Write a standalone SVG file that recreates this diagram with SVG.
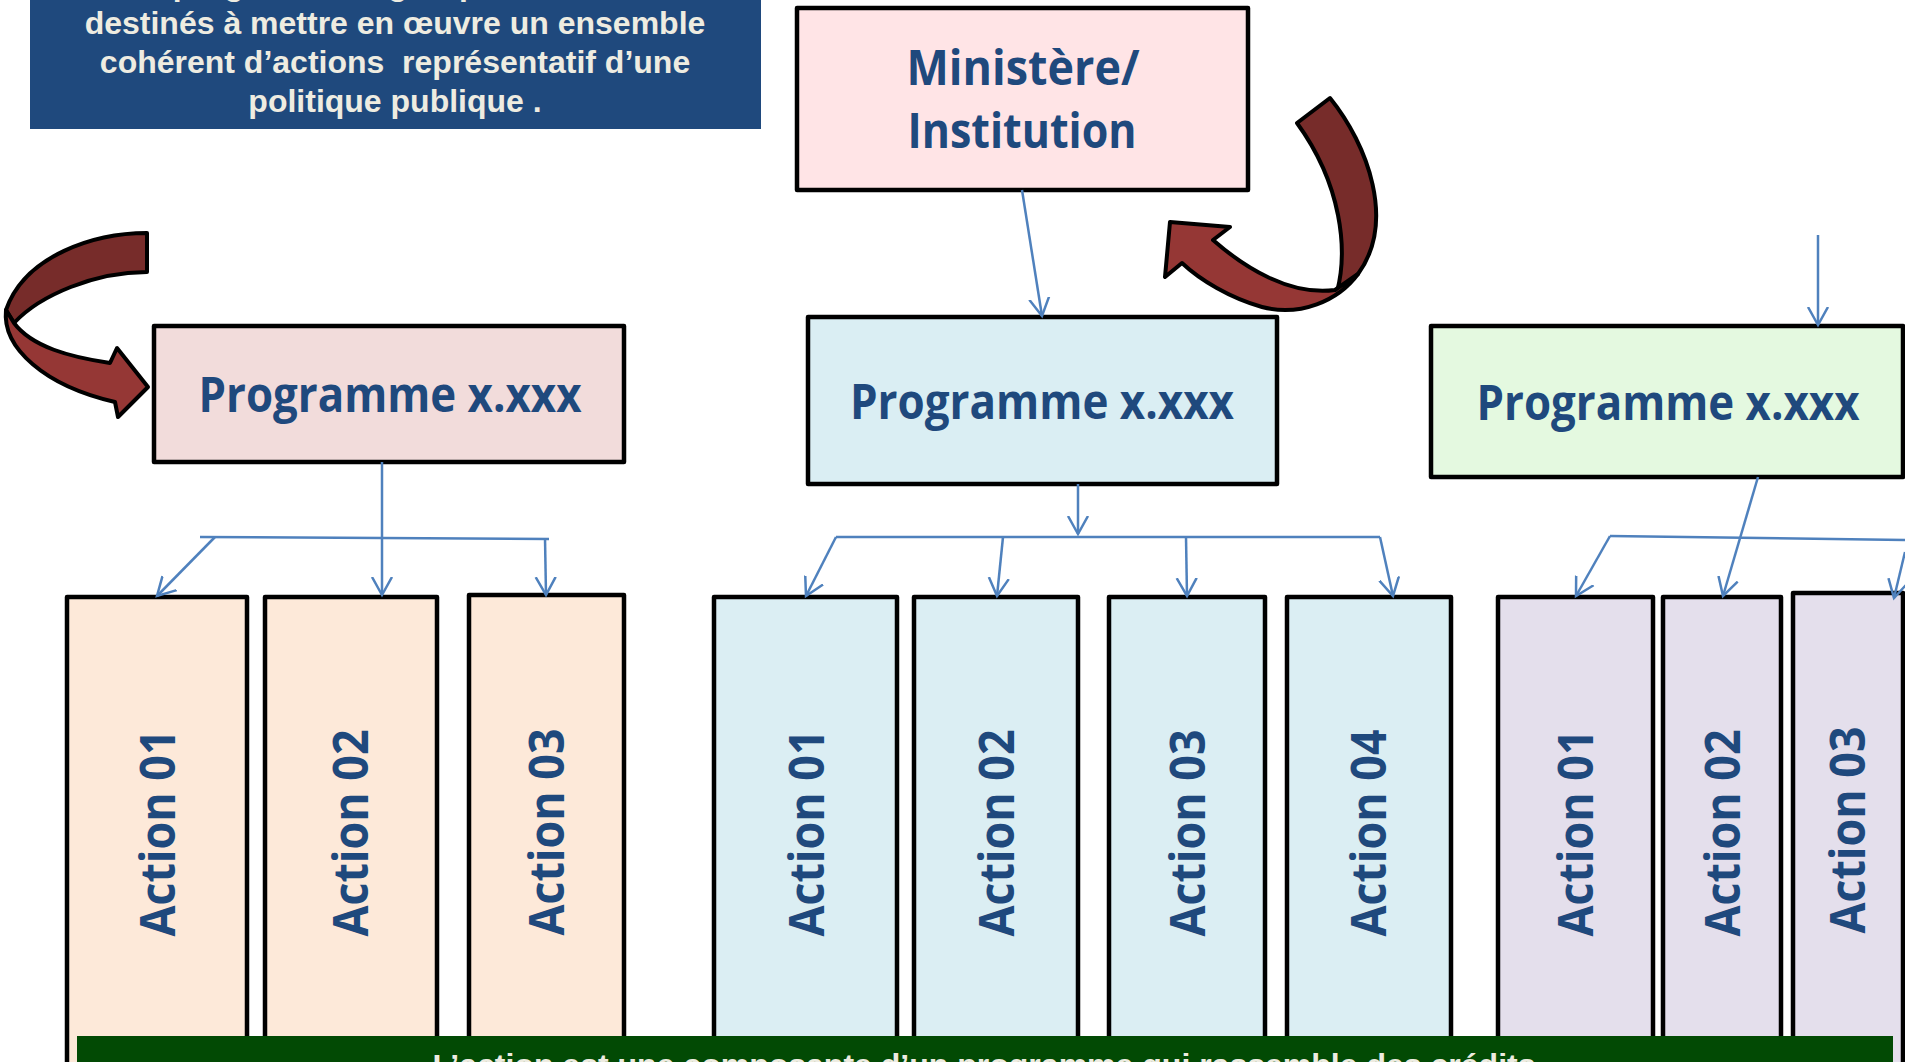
<svg xmlns="http://www.w3.org/2000/svg" width="1905" height="1062" viewBox="0 0 1905 1062">
<style>
.box{stroke:#000;stroke-width:4.5;stroke-linejoin:round}
.lbl{font-family:"Open Sans","Noto Sans","DejaVu Sans",sans-serif;font-weight:bold;fill:#1F497D}
.cream{font-family:"Liberation Sans",Arial,sans-serif;font-weight:bold;fill:#EEECE1}
.con{stroke:#4F81BD;stroke-width:2.5;fill:none}
.arr{marker-end:url(#open)}
.red{stroke:#000;stroke-width:4;stroke-linejoin:round}
</style>
<defs>
<marker id="open" markerUnits="userSpaceOnUse" markerWidth="24" markerHeight="24" refX="18" refY="12" orient="auto">
<path d="M0,2 L18,12 L0,22" fill="none" stroke="#4F81BD" stroke-width="2.5"/>
</marker>
</defs>
<rect width="1905" height="1062" fill="#fff"/>

<g id="definition-programme">
<rect x="30" y="-10" width="731" height="139" fill="#1F497D"/>
<text class="cream" font-size="32" text-anchor="middle" xml:space="preserve"><tspan x="395" y="-5">Le programme regroupe les crédits</tspan><tspan x="395" y="34">destinés à mettre en œuvre un ensemble</tspan><tspan x="395" y="73">cohérent d’actions  représentatif d’une</tspan><tspan x="395" y="112">politique publique .</tspan></text>
</g>

<g id="ministere">
<rect class="box" x="797" y="8" width="451" height="182" fill="#FFE4E6"/>
<text class="lbl" font-size="49" text-anchor="middle" x="1023" y="85" textLength="233" lengthAdjust="spacingAndGlyphs">Ministère/</text>
<text class="lbl" font-size="49" text-anchor="middle" x="1022" y="148" textLength="229" lengthAdjust="spacingAndGlyphs">Institution</text>
</g>

<g id="programme-1">
<rect class="box" x="154" y="326" width="470" height="136" fill="#F2DCDB"/>
<text class="lbl" font-size="49" text-anchor="middle" x="390" y="412" textLength="383" lengthAdjust="spacingAndGlyphs">Programme x.xxx</text>
</g>
<g id="programme-2">
<rect class="box" x="808" y="317" width="469" height="167" fill="#DAEEF3"/>
<text class="lbl" font-size="49" text-anchor="middle" x="1042" y="419" textLength="384" lengthAdjust="spacingAndGlyphs">Programme x.xxx</text>
</g>
<g id="programme-3">
<rect class="box" x="1431" y="326" width="472" height="151" fill="#E4F9E0"/>
<text class="lbl" font-size="49" text-anchor="middle" x="1668" y="420" textLength="383" lengthAdjust="spacingAndGlyphs">Programme x.xxx</text>
</g>

<g id="p1-action-01"><rect class="box" x="67" y="597" width="180" height="520" fill="#FDE9D9"/><text class="lbl" font-size="49" text-anchor="middle" transform="translate(175,833) rotate(-90)" textLength="207" lengthAdjust="spacingAndGlyphs">Action 01</text></g>
<g id="p1-action-02"><rect class="box" x="265" y="597" width="172" height="520" fill="#FDE9D9"/><text class="lbl" font-size="49" text-anchor="middle" transform="translate(368,833) rotate(-90)" textLength="207" lengthAdjust="spacingAndGlyphs">Action 02</text></g>
<g id="p1-action-03"><rect class="box" x="469" y="595" width="155" height="520" fill="#FDE9D9"/><text class="lbl" font-size="49" text-anchor="middle" transform="translate(564,832) rotate(-90)" textLength="207" lengthAdjust="spacingAndGlyphs">Action 03</text></g>

<g id="p2-action-01"><rect class="box" x="714" y="597" width="183" height="520" fill="#DBEEF3"/><text class="lbl" font-size="49" text-anchor="middle" transform="translate(824,833) rotate(-90)" textLength="207" lengthAdjust="spacingAndGlyphs">Action 01</text></g>
<g id="p2-action-02"><rect class="box" x="914" y="597" width="164" height="520" fill="#DBEEF3"/><text class="lbl" font-size="49" text-anchor="middle" transform="translate(1014,833) rotate(-90)" textLength="207" lengthAdjust="spacingAndGlyphs">Action 02</text></g>
<g id="p2-action-03"><rect class="box" x="1109" y="597" width="156" height="520" fill="#DBEEF3"/><text class="lbl" font-size="49" text-anchor="middle" transform="translate(1205,833) rotate(-90)" textLength="207" lengthAdjust="spacingAndGlyphs">Action 03</text></g>
<g id="p2-action-04"><rect class="box" x="1287" y="597" width="164" height="520" fill="#DBEEF3"/><text class="lbl" font-size="49" text-anchor="middle" transform="translate(1386,833) rotate(-90)" textLength="207" lengthAdjust="spacingAndGlyphs">Action 04</text></g>

<g id="p3-action-01"><rect class="box" x="1498" y="597" width="155" height="520" fill="#E4DFEC"/><text class="lbl" font-size="49" text-anchor="middle" transform="translate(1593,833) rotate(-90)" textLength="207" lengthAdjust="spacingAndGlyphs">Action 01</text></g>
<g id="p3-action-02"><rect class="box" x="1663" y="597" width="118" height="520" fill="#E4DFEC"/><text class="lbl" font-size="49" text-anchor="middle" transform="translate(1740,833) rotate(-90)" textLength="207" lengthAdjust="spacingAndGlyphs">Action 02</text></g>
<g id="p3-action-03"><rect class="box" x="1793" y="593" width="110" height="520" fill="#E4DFEC"/><text class="lbl" font-size="49" text-anchor="middle" transform="translate(1865,830) rotate(-90)" textLength="207" lengthAdjust="spacingAndGlyphs">Action 03</text></g>

<g id="definition-action">
<rect x="77" y="1036" width="1816" height="40" fill="#024A04"/>
<text class="cream" font-size="30" text-anchor="middle" x="984" y="1075" textLength="1103" lengthAdjust="spacingAndGlyphs">L’action est une composante d’un programme qui rassemble des crédits</text>
</g>

<g id="red-arrows">
<path class="red" fill="#772C2A" d="M147,233 C95,233 25,255 6,310 L14,323 C40,295 95,272 147,272 Z"/>
<path class="red" fill="#953735" d="M6,310 C2,348 45,386 115,402 L118,417 L148,387 L117,348 L110,363 C70,357 32,347 14,323 Z"/>
<path class="red" fill="#772C2A" d="M1297,123 L1330,98 C1368,145 1396,222 1358,274 L1337,292 C1348,250 1342,185 1297,123 Z"/>
<path class="red" fill="#953735" d="M1358,274 C1338,301 1300,317 1262,307 C1230,298 1200,280 1182,263 L1165,277 L1170,222 L1230,227 L1213,240 C1245,268 1290,296 1335,290 Z"/>
</g>

<g id="connectors">
<line class="con arr" x1="1022" y1="190" x2="1042" y2="316"/>
<line class="con arr" x1="382" y1="462" x2="382" y2="595"/>
<line class="con" x1="200" y1="537" x2="549" y2="539"/>
<line class="con arr" x1="215" y1="537" x2="157" y2="596"/>
<line class="con arr" x1="545" y1="538" x2="546" y2="595"/>
<line class="con arr" x1="1078" y1="484" x2="1078" y2="534"/>
<line class="con" x1="836" y1="537" x2="1380" y2="537"/>
<line class="con arr" x1="836" y1="537" x2="806" y2="596"/>
<line class="con arr" x1="1003" y1="537" x2="997" y2="596"/>
<line class="con arr" x1="1186" y1="537" x2="1187" y2="596"/>
<line class="con arr" x1="1380" y1="537" x2="1393" y2="596"/>
<line class="con arr" x1="1818" y1="235" x2="1818" y2="325"/>
<line class="con arr" x1="1758" y1="477" x2="1723" y2="596"/>
<line class="con" x1="1610" y1="536" x2="1905" y2="540"/>
<line class="con arr" x1="1610" y1="536" x2="1576" y2="596"/>
<line class="con arr" x1="1905" y1="552" x2="1894" y2="598"/>
</g>
</svg>
